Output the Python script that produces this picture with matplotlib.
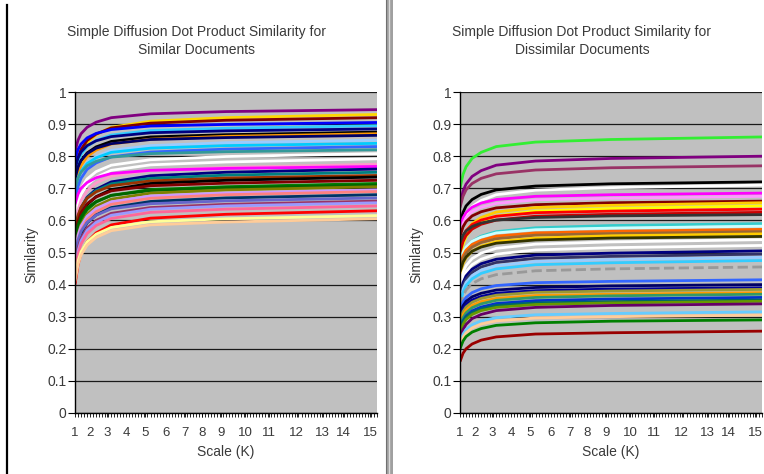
import matplotlib
matplotlib.use("Agg")
import matplotlib.pyplot as plt
from matplotlib.patches import Rectangle
from matplotlib.lines import Line2D

plt.rcParams['font.family'] = ['Liberation Sans', 'DejaVu Sans']

# category index of each sample (Excel category axis, ~100 categories)
x_idx = [0, 1, 2, 4, 7, 12, 25, 50, 100]
k_labels = ['1', '2', '3', '4', '5', '6', '7', '8', '9', '10', '11', '12', '13', '14', '15']
k_label_idx = [0, 5, 10.6, 17, 23.3, 30, 36.3, 42.2, 48.5, 56.3, 64.2, 73.4, 81.8, 88.9, 97.7]

# similar documents
sim_colors = ['#800080', '#ffd700', '#800000', '#0000ff', '#33ccff', '#000080', '#000000',
              '#ff9900', '#000066', '#99ccff', '#00ccff', '#3366ff', '#339999', '#ffffff',
              '#ffffff', '#ff99cc', '#ff00ff', '#000080', '#008080', '#993300', '#000000',
              '#800000', '#008000', '#006600', '#808000', '#cc99ff', '#ff8080', '#003366',
              '#6666cc', '#993366', '#9999ff', '#ff6699', '#ff0000', '#ffff99', '#ffcc99']
sim_vals = [
    [.815, .850, .870, .890, .906, .920, .932, .939, .945],
    [.720, .777, .808, .842, .867, .890, .909, .920, .930],
    [.750, .796, .821, .849, .869, .888, .903, .912, .920],
    [.790, .821, .838, .857, .871, .883, .894, .899, .905],
    [.740, .782, .805, .830, .849, .866, .880, .887, .895],
    [.760, .794, .813, .833, .848, .861, .873, .879, .885],
    [.720, .762, .785, .810, .829, .846, .860, .867, .875],
    [.700, .746, .771, .799, .819, .838, .853, .862, .870],
    [.730, .766, .787, .808, .825, .839, .852, .858, .865],
    [.680, .726, .751, .779, .799, .818, .833, .842, .850],
    [.690, .731, .753, .777, .795, .812, .825, .833, .840],
    [.660, .706, .731, .759, .779, .798, .813, .822, .830],
    [.700, .732, .750, .770, .784, .797, .808, .814, .820],
    [.620, .671, .699, .729, .752, .772, .789, .799, .808],
    [.600, .652, .681, .711, .734, .756, .773, .782, .792],
    [.580, .633, .662, .693, .717, .738, .756, .765, .775],
    [.650, .682, .700, .718, .733, .746, .756, .762, .768],
    [.550, .607, .638, .672, .697, .720, .739, .750, .760],
    [.560, .611, .640, .670, .693, .714, .731, .741, .750],
    [.570, .616, .641, .669, .689, .708, .723, .732, .740],
    [.530, .585, .616, .649, .674, .696, .715, .725, .735],
    [.550, .597, .624, .652, .673, .692, .708, .716, .725],
    [.520, .573, .602, .633, .657, .678, .696, .705, .715],
    [.540, .586, .611, .639, .659, .678, .693, .702, .710],
    [.500, .555, .586, .619, .644, .666, .685, .695, .705],
    [.500, .553, .582, .613, .637, .658, .676, .685, .695],
    [.480, .537, .568, .602, .627, .650, .669, .680, .690],
    [.470, .527, .558, .592, .617, .640, .659, .670, .680],
    [.490, .539, .566, .594, .616, .636, .652, .661, .670],
    [.460, .514, .544, .576, .600, .622, .640, .650, .660],
    [.450, .505, .536, .569, .594, .616, .635, .645, .655],
    [.440, .495, .526, .559, .584, .606, .625, .635, .645],
    [.400, .462, .497, .533, .561, .586, .607, .619, .630],
    [.420, .473, .502, .533, .557, .578, .596, .605, .615],
    [.410, .463, .492, .523, .547, .568, .586, .595, .605],
]

# dissimilar documents
dis_colors = ['#33ee33', '#800080', '#993366', '#000000', '#ffffff', '#ff00ff', '#ff99ff',
              '#800000', '#ffcc00', '#ffff00', '#ff0000', '#cc0000', '#333333', '#33cccc',
              '#ccffff', '#ff6600', '#996633', '#ffcc00', '#333300', '#ffffff', '#ffffff',
              '#000080', '#333366', '#99ccff', '#33ccff', '#999999', '#3366ff', '#000066',
              '#000099', '#999933', '#ff9900', '#339966', '#0033cc', '#006666', '#669900',
              '#660066', '#66ccff', '#ffcc99', '#008000', '#990000']
dis_vals = [
    [.700, .743, .767, .793, .812, .830, .844, .852, .860],
    [.650, .691, .713, .737, .755, .772, .785, .793, .800],
    [.640, .675, .695, .715, .731, .745, .757, .764, .770],
    [.590, .625, .645, .665, .681, .695, .707, .714, .720],
    [.550, .593, .617, .643, .662, .680, .694, .702, .710],
    [.580, .608, .624, .641, .654, .665, .675, .680, .685],
    [.560, .591, .608, .627, .641, .653, .664, .669, .675],
    [.550, .580, .596, .614, .627, .639, .649, .655, .660],
    [.500, .542, .565, .590, .609, .626, .640, .647, .655],
    [.480, .525, .549, .576, .596, .614, .629, .637, .645],
    [.520, .551, .568, .587, .601, .613, .624, .629, .635],
    [.500, .534, .553, .573, .588, .601, .613, .619, .625],
    [.530, .554, .567, .581, .592, .601, .609, .614, .618],
    [.460, .495, .515, .535, .551, .565, .577, .584, .590],
    [.470, .500, .517, .535, .548, .561, .571, .576, .582],
    [.460, .490, .507, .525, .538, .551, .561, .566, .572],
    [.450, .481, .498, .517, .531, .543, .554, .559, .565],
    [.430, .465, .484, .504, .520, .534, .545, .552, .558],
    [.440, .470, .486, .504, .517, .529, .539, .545, .550],
    [.400, .438, .459, .481, .498, .513, .526, .533, .540],
    [.380, .418, .440, .462, .479, .495, .508, .515, .522],
    [.370, .406, .427, .448, .465, .479, .492, .498, .505],
    [.360, .396, .417, .438, .455, .469, .482, .488, .495],
    [.350, .386, .407, .428, .445, .459, .472, .478, .485],
    [.340, .376, .397, .418, .435, .449, .462, .468, .475],
    [.330, .364, .383, .403, .418, .431, .443, .449, .455],
    [.320, .346, .360, .375, .387, .397, .406, .410, .415],
    [.310, .334, .348, .362, .373, .383, .391, .396, .400],
    [.300, .324, .338, .352, .363, .373, .381, .386, .390],
    [.290, .316, .330, .345, .357, .367, .376, .380, .385],
    [.280, .306, .320, .335, .347, .357, .366, .370, .375],
    [.270, .297, .312, .328, .340, .351, .360, .365, .370],
    [.260, .287, .302, .318, .330, .341, .350, .355, .360],
    [.260, .285, .299, .313, .324, .335, .343, .347, .352],
    [.250, .276, .291, .307, .319, .329, .338, .343, .348],
    [.230, .260, .276, .294, .307, .319, .329, .335, .340],
    [.220, .246, .260, .275, .287, .297, .306, .310, .315],
    [.210, .236, .250, .265, .277, .287, .296, .300, .305],
    [.200, .224, .238, .252, .263, .273, .281, .286, .290],
    [.160, .186, .200, .215, .227, .237, .246, .250, .255],
]

W, H = 764, 474
fig = plt.figure(figsize=(W / 100, H / 100), dpi=100)
txt = '#3a3a3a'


def panel(left_px, vals, colors, title2, dashed=()):
    ax = fig.add_axes([left_px / W, (H - 413) / H, 302 / W, 321 / H])
    ax.set_facecolor('#c0c0c0')
    for i, (v, c) in enumerate(zip(vals, colors)):
        ax.plot(x_idx, v, color=c, lw=2.0, ls='--' if i in dashed else '-',
                solid_capstyle='butt')
    ax.set_xlim(0, 100)
    ax.set_ylim(0, 1)
    ax.set_yticks([i / 10 for i in range(11)])
    ax.set_yticklabels(['0'] + ['%.1f' % (i / 10) for i in range(1, 10)] + ['1'])
    ax.yaxis.grid(True, color='#1a1a1a', lw=0.9)
    ax.set_axisbelow(True)
    ax.set_xticks(k_label_idx)
    ax.set_xticklabels(k_labels)
    ax.set_xticks(range(0, 101), minor=True)
    ax.tick_params(axis='y', length=5, width=0.8, pad=1, labelsize=10, labelcolor=txt)
    ax.tick_params(axis='x', which='both', length=3, width=0.6, pad=7, labelsize=9.5,
                   labelcolor=txt)
    for s in ['top', 'right']:
        ax.spines[s].set_visible(False)
    for s in ['left', 'bottom']:
        ax.spines[s].set_color('black')
        ax.spines[s].set_linewidth(1)
    cx = left_px + 151
    fig.text((cx - 29) / W, 1 - 32 / H, 'Simple Diffusion Dot Product Similarity for',
             ha='center', va='center', fontsize=10, color=txt)
    fig.text((cx - 29) / W, 1 - 50 / H, title2, ha='center', va='center',
             fontsize=10, color=txt)
    fig.text(cx / W, 1 - 452 / H, 'Scale (K)', ha='center', va='center',
             fontsize=10, color=txt)
    fig.text((left_px - 44) / W, 1 - 255 / H, 'Similarity', ha='center', va='center',
             rotation=90, fontsize=10, color=txt)
    return ax


panel(75, sim_vals, sim_colors, 'Similar Documents')
panel(460, dis_vals, dis_colors, 'Dissimilar Documents', dashed=(25,))

# frame pieces of the screenshot
fig.add_artist(Line2D([6.5 / W, 6.5 / W], [0, 1 - 5 / H], color='black', lw=1.6))
fig.add_artist(Rectangle((385.5 / W, 0), 7 / W, 1, color='#a0a0a0', lw=0))
fig.add_artist(Line2D([389 / W, 389 / W], [0, 1], color='#dcdcdc', lw=1))
fig.add_artist(Line2D([386 / W, 386 / W], [0, 1], color='#707070', lw=0.8))

fig.savefig('out.png', dpi=100)
